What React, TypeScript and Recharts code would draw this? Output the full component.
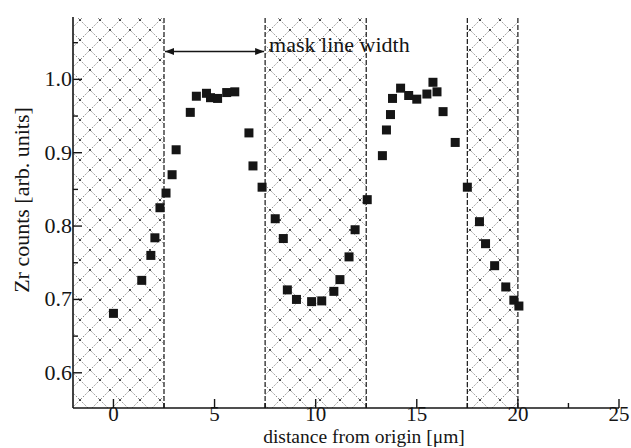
import { ScatterChart, Scatter, XAxis, YAxis, ReferenceArea, ReferenceLine, Label } from 'recharts';

// distance from origin [µm]
const distance = [
  0, 1.4, 1.85, 2.05, 2.3, 2.6, 2.9, 3.1, 3.8, 4.1, 4.6, 4.8, 5.15, 5.6, 6.0,
  6.7, 6.9, 7.35, 8.0, 8.4, 8.6, 9.05, 9.8, 10.3, 10.9, 11.2, 11.65, 11.95,
  12.55, 13.3, 13.5, 13.7, 13.8, 14.2, 14.6, 15.0, 15.5, 15.8, 16.0, 16.3,
  16.9, 17.5, 18.1, 18.4, 18.85, 19.4, 19.8, 20.05,
];

// Zr counts [arb. units]
const zrCounts = [
  0.681, 0.726, 0.76, 0.784, 0.825, 0.845, 0.87, 0.904, 0.955, 0.977, 0.981,
  0.975, 0.974, 0.982, 0.983, 0.927, 0.882, 0.853, 0.81, 0.783, 0.713, 0.7,
  0.697, 0.698, 0.711, 0.727, 0.758, 0.795, 0.836, 0.896, 0.931, 0.952, 0.974,
  0.988, 0.978, 0.973, 0.98, 0.996, 0.983, 0.956, 0.914, 0.853, 0.806, 0.776,
  0.746, 0.717, 0.699, 0.691,
];

// masked (hatched) stripes
const maskStart = [-2, 7.5, 17.5];
const maskEnd = [2.5, 12.5, 20];
const maskEdges = [2.5, 7.5, 12.5, 17.5, 20];

const xTicks = [0, 2.5, 5, 7.5, 10, 12.5, 15, 17.5, 20, 22.5, 25];
const xMajor = [0, 5, 10, 15, 20, 25];
const yTicks = [0.6, 0.65, 0.7, 0.75, 0.8, 0.85, 0.9, 0.95, 1.0, 1.05];
const yMajor = [0.6, 0.7, 0.8, 0.9, 1.0];

const X_DOMAIN: [number, number] = [-2, 25];
const Y_DOMAIN: [number, number] = [0.552, 1.085];

const FONT = '"Liberation Serif", "Times New Roman", serif';
const INK = '#151515';

const points = distance.map((x, i) => ({ x, y: zrCounts[i] }));

function XTick({ x, y, payload }: any) {
  const major = xMajor.includes(payload.value);
  return (
    <g>
      <line x1={x} y1={y} x2={x} y2={y - (major ? 9 : 5)} stroke={INK} strokeWidth={1.4} />
      {major && (
        <text x={x} y={y + 13} textAnchor="middle" fontFamily={FONT} fontSize={21} fill={INK}>
          {payload.value}
        </text>
      )}
    </g>
  );
}

function YTick({ x, y, payload }: any) {
  const major = yMajor.includes(payload.value);
  return (
    <g>
      <line x1={x} y1={y} x2={x + (major ? 9 : 5)} y2={y} stroke={INK} strokeWidth={1.4} />
      {major && (
        <text x={x - 1} y={y + 7} textAnchor="end" fontFamily={FONT} fontSize={22} fill={INK}>
          {payload.value.toFixed(1)}
        </text>
      )}
    </g>
  );
}

function SquareDot({ cx, cy }: any) {
  return <rect x={cx - 4.5} y={cy - 4.5} width={9} height={9} fill={INK} />;
}

function ArrowWithText(props: any) {
  const { x1, y1, x2 } = props;
  const y = y1;
  return (
    <g>
      <line x1={x1 + 1} y1={y} x2={x2 - 1} y2={y} stroke={INK} strokeWidth={1.4} />
      <path d={`M${x1 + 1},${y} l9,-3.5 l0,7 z`} fill={INK} />
      <path d={`M${x2 - 1},${y} l-9,-3.5 l0,7 z`} fill={INK} />
      <text x={x2 + 4} y={y + 1} fontFamily={FONT} fontSize={22} fill={INK}>
        mask line width
      </text>
    </g>
  );
}

export default function App() {
  return (
    <div style={{ position: 'absolute', left: 0, top: 0, width: 631, height: 448, background: '#fff' }}>
      <svg width={0} height={0} style={{ position: 'absolute' }}>
        <defs>
          <pattern id="crosshatch" patternUnits="userSpaceOnUse" width={20} height={20}>
            <path
              d="M0,0 L20,20 M20,0 L0,20"
              stroke="#7a7a7a"
              strokeWidth={0.9}
              strokeDasharray="1.6 1.6"
            />
            <circle cx={10} cy={10} r={1.1} fill="#333" />
            <circle cx={0} cy={0} r={1.1} fill="#333" />
            <circle cx={20} cy={0} r={1.1} fill="#333" />
            <circle cx={0} cy={20} r={1.1} fill="#333" />
            <circle cx={20} cy={20} r={1.1} fill="#333" />
          </pattern>
        </defs>
      </svg>
      <ScatterChart width={631} height={448} margin={{ top: 17, right: 12, bottom: 0, left: 0 }}>
        <XAxis
          type="number"
          dataKey="x"
          domain={X_DOMAIN}
          ticks={xTicks}
          allowDataOverflow
          height={40}
          tickSize={0}
          tickMargin={0}
          tickLine={false}
          tick={<XTick />}
          axisLine={{ stroke: INK, strokeWidth: 1.6 }}
          interval={0}
        >
          <Label
            content={() => (
              <text x={364} y={443} textAnchor="middle" fontFamily={FONT} fontSize={19.5} fill={INK}>
                distance from origin [μm]
              </text>
            )}
          />
        </XAxis>
        <XAxis
          xAxisId="top"
          type="number"
          orientation="top"
          domain={X_DOMAIN}
          height={0}
          tick={false}
          tickLine={false}
          axisLine={{ stroke: INK, strokeWidth: 1.6 }}
        />
        <YAxis
          type="number"
          dataKey="y"
          domain={Y_DOMAIN}
          ticks={yTicks}
          allowDataOverflow
          width={73}
          tickSize={0}
          tickMargin={0}
          tickLine={false}
          tick={<YTick />}
          axisLine={{ stroke: INK, strokeWidth: 1.6 }}
          interval={0}
        >
          <Label
            content={() => (
              <text
                x={29}
                y={200}
                transform="rotate(-90 29 200)"
                textAnchor="middle"
                fontFamily={FONT}
                fontSize={22}
                fill={INK}
              >
                Zr counts [arb. units]
              </text>
            )}
          />
        </YAxis>
        <YAxis
          yAxisId="right"
          orientation="right"
          type="number"
          domain={Y_DOMAIN}
          width={0}
          tick={false}
          tickLine={false}
          axisLine={{ stroke: INK, strokeWidth: 1.6 }}
        />
        {maskStart.map((s, i) => (
          <ReferenceArea
            key={`mask-${i}`}
            x1={s}
            x2={maskEnd[i]}
            y1={Y_DOMAIN[0]}
            y2={Y_DOMAIN[1]}
            fill="url(#crosshatch)"
            fillOpacity={1}
            stroke="none"
            ifOverflow="hidden"
          />
        ))}
        {maskEdges.map((e) => (
          <ReferenceLine key={`edge-${e}`} x={e} stroke={INK} strokeWidth={1.2} strokeDasharray="5 2" />
        ))}
        <ReferenceLine
          segment={[
            { x: 2.5, y: 1.038 },
            { x: 7.5, y: 1.038 },
          ]}
          shape={<ArrowWithText />}
          ifOverflow="visible"
        />
        <Scatter data={points} shape={<SquareDot />} isAnimationActive={false} />
      </ScatterChart>
    </div>
  );
}
